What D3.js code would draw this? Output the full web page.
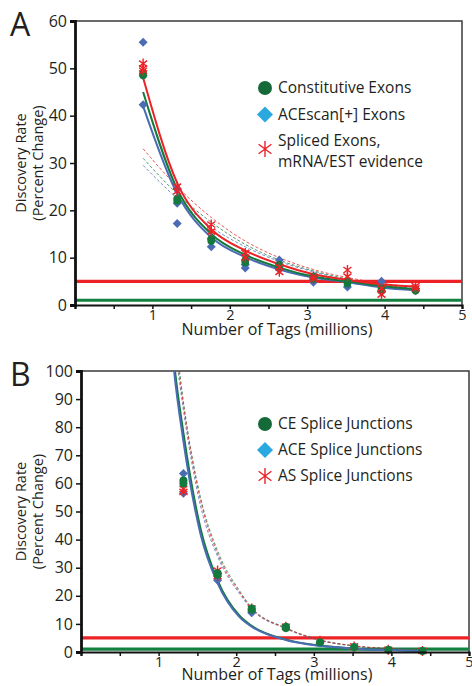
<!DOCTYPE html>
<html>
<head>
<meta charset="utf-8">
<script src="https://cdn.jsdelivr.net/npm/d3@7"></script>
<style>
  body { margin: 0; background: #fff; }
  svg text { font-family: "Open Sans", "Noto Sans", sans-serif; fill: #231f20; }
</style>
</head>
<body>
<svg id="chart" width="472" height="686"></svg>
<script>
// ── DATA ──────────────────────────────────────────────────────
const tagsX = [0.88, 1.32, 1.76, 2.2, 2.64, 3.08, 3.52, 3.96, 4.4];

// Panel A replicate values per x position
const aConstitutive = [[49, 48.5], [22, 22.5], [14, 13.5], [9, 9.5], [8, 8.5], [5.5, 6], [4.5, 5], [3.5, 3], [3, 3.3]];
const aACEscan      = [[55.5, 42.3, 48.5], [17.2, 21.5, 24.5], [12.3, 14], [7.8, 8.5], [9.5, 7.5], [4.8, 6], [3.8, 5], [5, 2.8], [3, 3.5]];
const aSpliced      = [[51, 50, 49.5], [25, 24], [17, 15.5], [11, 10], [7, 8], [6, 5.5], [7.4, 6], [2.2, 3.5], [4, 3.5]];

// Panel A fitted curves (read at tagsX)
const aFitRed        = [48, 25.8, 16, 11.5, 8.6, 6.5, 5.3, 4.4, 3.9];
const aFitGreen      = [45, 24.5, 15, 10.6, 7.9, 6, 5, 4, 3.3];
const aFitBlue       = [42, 23.5, 14.3, 10.1, 7.5, 5.8, 4.8, 3.7, 3.1];
const aDashRed       = [33, 25, 18.5, 13.5, 10, 7.5, 5.8, 4.6, 3.8];
const aDashGreen     = [31, 23.5, 17.5, 12.8, 9.5, 7.2, 5.5, 4.3, 3.5];
const aDashBlue      = [29.5, 22.5, 16.5, 12.3, 9.2, 7, 5.3, 4.2, 3.4];

// Panel B replicate values (from x = 1.32 on)
const tagsXB = [1.32, 1.76, 2.2, 2.64, 3.08, 3.52, 3.96, 4.4];
const bCE  = [[61, 60], [28, 27.5], [15, 15.5], [8.5, 9], [3.5], [1.8], [0.8], [0.4]];
const bACE = [[63.5, 56.5], [25.5, 27], [14], [8.5], [3.2], [1.7], [0.7], [0.3]];
const bAS  = [[58, 57], [27, 29], [15.5], [9], [4], [2], [0.8], [0.4]];

// Panel B fitted curves
const fitXB      = [1.15, 1.2, 1.32, 1.54, 1.76, 2.04, 2.2, 2.64, 3.08, 3.52, 3.96, 4.4];
const bFitBlue   = [115, 100, 75, 42, 24.5, 12.5, 9, 4.3, 2.2, 1.2, 0.7, 0.4];
const bFitGreen  = [118, 103, 78, 44, 25.5, 13, 9.3, 4.4, 2.3, 1.2, 0.7, 0.4];
const dashXB     = [1.2, 1.26, 1.32, 1.54, 1.76, 2.05, 2.2, 2.64, 3.08, 3.52, 3.96, 4.4];
const bDashRed   = [112, 100, 88, 54, 35, 21, 15.5, 8.5, 4.2, 2.2, 1.2, 0.7];
const bDashGreen = [114, 102, 89, 55, 36, 21.5, 15.8, 8.6, 4.3, 2.2, 1.2, 0.7];
const bDashBlue  = [110, 98, 86, 52, 34, 20.5, 15.2, 8.3, 4.1, 2.1, 1.1, 0.6];

const refLines = [{ v: 5, c: "#ec2227" }, { v: 1, c: "#12803e" }];

const legendA = ["Constitutive Exons", "ACEscan[+] Exons", ["Spliced Exons,", "mRNA/EST evidence"]];
const legendB = ["CE Splice Junctions", "ACE Splice Junctions", "AS Splice Junctions"];

const C = { red: "#ec2227", green: "#14793d", blue: "#4a6cb3", legBlue: "#2aa9e0", legGreen: "#166a38" };

const svg = d3.select("#chart");

// ── MARKERS ───────────────────────────────────────────────────
const drawMarker = (g, kind, x, y, s, color) => {
  if (kind === "circle") {
    g.append("circle").attr("cx", x).attr("cy", y).attr("r", s).attr("fill", color);
  } else if (kind === "diamond") {
    g.append("path")
      .attr("d", `M${x},${y - s}L${x + s},${y}L${x},${y + s}L${x - s},${y}Z`)
      .attr("fill", color);
  } else {
    const dx = s * 0.8, dy = s * 0.6;
    g.append("path")
      .attr("d", `M${x},${y - s}V${y + s}M${x - dx},${y - dy}L${x + dx},${y + dy}M${x - dx},${y + dy}L${x + dx},${y - dy}`)
      .attr("stroke", color).attr("stroke-width", 1.4).attr("fill", "none");
  }
};

// ── PANEL ─────────────────────────────────────────────────────
const drawPanel = (p) => {
  const x = d3.scaleLinear().domain([0, 5]).range([p.left, p.right]);
  const y = d3.scaleLinear().domain([0, p.yMax]).range([p.bottom, p.top]);

  const clipId = "clip" + p.letter;
  svg.append("clipPath").attr("id", clipId)
    .append("rect").attr("x", p.left).attr("y", p.top)
    .attr("width", p.right - p.left).attr("height", p.bottom - p.top);

  // frame top / right
  svg.append("path")
    .attr("d", `M${p.left},${p.top}H${p.right}V${p.bottom}`)
    .attr("fill", "none").attr("stroke", "#3a3a3a").attr("stroke-width", 1.5);

  // reference lines
  svg.selectAll(null).data(refLines).join("line")
    .attr("x1", p.left).attr("x2", p.right)
    .attr("y1", d => y(d.v)).attr("y2", d => y(d.v))
    .attr("stroke", d => d.c).attr("stroke-width", 3.2);

  const plot = svg.append("g").attr("clip-path", `url(#${clipId})`);
  const line = d3.line().x(d => x(d[0])).y(d => y(d[1])).curve(d3.curveMonotoneX);

  // dashed fits
  p.dashes.forEach(dsh => {
    plot.append("path").datum(dsh.xs.map((v, i) => [v, dsh.ys[i]]))
      .attr("d", line).attr("fill", "none").attr("stroke", dsh.c)
      .attr("stroke-width", 0.9).attr("stroke-dasharray", "3,2").attr("opacity", 0.85);
  });

  // points
  const pts = svg.append("g");
  p.series.forEach(s => {
    s.xs.forEach((xv, i) => {
      s.vals[i].forEach(v => drawMarker(pts, s.kind, x(xv), y(v), s.size, s.c));
    });
  });

  // solid fits
  p.fits.forEach(f => {
    plot.append("path").datum(f.xs.map((v, i) => [v, f.ys[i]]))
      .attr("d", line).attr("fill", "none").attr("stroke", f.c).attr("stroke-width", 2);
  });

  // axes
  const yAxis = d3.axisLeft(y).tickValues(d3.range(0, p.yMax + 1, 10)).tickSize(5).tickPadding(3);
  const gy = svg.append("g").attr("transform", `translate(${p.left},0)`).call(yAxis);
  gy.select(".domain").attr("stroke", "#111").attr("stroke-width", 2.8);
  gy.selectAll(".tick line").attr("stroke", "#111").attr("stroke-width", 1.5);
  gy.selectAll("text").style("font-size", "16px").attr("fill", "#231f20");

  const xAxis = d3.axisBottom(x).tickValues(d3.range(0, 5.01, 0.5)).tickSize(4).tickPadding(1)
    .tickFormat(d => (d > 0 && Number.isInteger(d)) ? d : "");
  const gx = svg.append("g").attr("transform", `translate(0,${p.bottom})`).call(xAxis);
  gx.select(".domain").attr("stroke", "#111").attr("stroke-width", 2.2);
  gx.selectAll(".tick line").attr("stroke", "#111").attr("stroke-width", 1.5);
  gx.selectAll("text").style("font-size", "14.5px").attr("fill", "#231f20");

  // titles
  svg.append("text").attr("x", 277).attr("y", p.bottom + p.titleGap)
    .attr("text-anchor", "middle").style("font-size", "16px").text("Number of Tags (millions)");

  const ylab = svg.append("text")
    .attr("transform", `translate(26,${(p.top + p.bottom) / 2}) rotate(-90)`)
    .attr("text-anchor", "middle").style("font-size", "14.5px");
  ylab.append("tspan").attr("x", 0).attr("y", 0).text("Discovery Rate");
  ylab.append("tspan").attr("x", 0).attr("y", 17).text("(Percent Change)");

  svg.append("text").attr("x", 10).attr("y", p.top + 15).style("font-size", "32px").text(p.letter);

  // legend
  const lg = svg.append("g");
  const kinds = [
    { kind: "circle", c: C.legGreen, s: 7 },
    { kind: "diamond", c: C.legBlue, s: 8 },
    { kind: "asterisk", c: C.red, s: 8 }
  ];
  let ly = p.legendY;
  p.legend.forEach((lab, i) => {
    const k = kinds[i];
    const lines = Array.isArray(lab) ? lab : [lab];
    const markY = lines.length > 1 ? ly + 8 : ly;
    drawMarker(lg, k.kind, 265, markY, k.s, k.c);
    lines.forEach((t, j) => {
      lg.append("text").attr("x", 278).attr("y", ly + 5 + j * 21).style("font-size", "15.5px").text(t);
    });
    ly += p.legendStep;
  });
};

drawPanel({
  letter: "A", left: 75, right: 462, top: 21, bottom: 305, yMax: 60, titleGap: 30,
  legendY: 88, legendStep: 26.5, legend: legendA,
  dashes: [
    { xs: tagsX, ys: aDashBlue, c: C.blue },
    { xs: tagsX, ys: aDashGreen, c: C.green },
    { xs: tagsX, ys: aDashRed, c: C.red }
  ],
  series: [
    { xs: tagsX, vals: aACEscan, kind: "diamond", c: C.blue, size: 4.5 },
    { xs: tagsX, vals: aConstitutive, kind: "circle", c: C.green, size: 3.8 },
    { xs: tagsX, vals: aSpliced, kind: "asterisk", c: C.red, size: 5 }
  ],
  fits: [
    { xs: tagsX, ys: aFitBlue, c: C.blue },
    { xs: tagsX, ys: aFitGreen, c: C.green },
    { xs: tagsX, ys: aFitRed, c: C.red }
  ]
});

drawPanel({
  letter: "B", left: 81, right: 469, top: 371, bottom: 652, yMax: 100, titleGap: 28,
  legendY: 424, legendStep: 26, legend: legendB,
  dashes: [
    { xs: dashXB, ys: bDashBlue, c: C.blue },
    { xs: dashXB, ys: bDashGreen, c: C.green },
    { xs: dashXB, ys: bDashRed, c: C.red }
  ],
  series: [
    { xs: tagsXB, vals: bACE, kind: "diamond", c: C.blue, size: 4.5 },
    { xs: tagsXB, vals: bAS, kind: "asterisk", c: C.red, size: 5 },
    { xs: tagsXB, vals: bCE, kind: "circle", c: C.green, size: 4 }
  ],
  fits: [
    { xs: fitXB, ys: bFitGreen, c: C.green },
    { xs: fitXB, ys: bFitBlue, c: C.blue }
  ]
});
</script>
</body>
</html>
